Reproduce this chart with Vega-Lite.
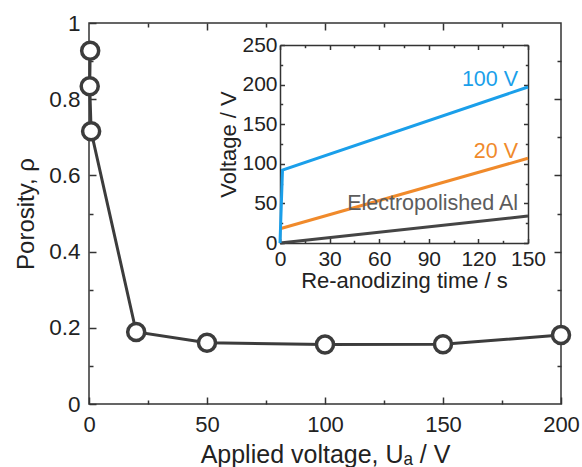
{
  "$schema": "https://vega.github.io/schema/vega-lite/v6.json",
  "width": 472,
  "height": 381,
  "autosize": {"type": "none"},
  "padding": {"left": 89, "top": 23, "right": 21, "bottom": 63},
  "background": "white",
  "config": {
    "font": "Liberation Sans",
    "view": {"stroke": "#333333", "strokeWidth": 1.5},
    "axis": {
      "grid": false,
      "labelFont": "Liberation Sans",
      "titleFont": "Liberation Sans",
      "labelColor": "#222222",
      "titleColor": "#222222",
      "tickColor": "#333333",
      "domainColor": "#333333",
      "tickWidth": 1.5,
      "domainWidth": 1.5,
      "titleFontWeight": "normal",
      "labelFlush": false,
      "labelOverlap": false
    }
  },
  "datasets": {
    "porosity": [
      {"Ua": 0.5, "rho": 0.927, "i": 0},
      {"Ua": 0.3, "rho": 0.834, "i": 1},
      {"Ua": 0.9, "rho": 0.716, "i": 2},
      {"Ua": 20, "rho": 0.189, "i": 3},
      {"Ua": 50, "rho": 0.161, "i": 4},
      {"Ua": 100, "rho": 0.156, "i": 5},
      {"Ua": 150, "rho": 0.157, "i": 6},
      {"Ua": 200, "rho": 0.181, "i": 7}
    ],
    "voltage": [
      {"series": "Electropolished Al", "t": 0, "V": 0},
      {"series": "Electropolished Al", "t": 150, "V": 34},
      {"series": "20 V", "t": 0, "V": 18},
      {"series": "20 V", "t": 150, "V": 107},
      {"series": "100 V", "t": 0, "V": 0},
      {"series": "100 V", "t": 1.5, "V": 92},
      {"series": "100 V", "t": 150, "V": 197}
    ],
    "labels": [
      {"series": "100 V", "t": 144, "V": 206, "label": "100 V"},
      {"series": "20 V", "t": 144, "V": 115, "label": "20 V"},
      {"series": "Electropolished Al", "t": 144, "V": 49, "label": "Electropolished Al"}
    ]
  },
  "layer": [
    {
      "data": {"name": "porosity"},
      "encoding": {
        "x": {
          "field": "Ua", "type": "quantitative",
          "scale": {"domain": [0, 200], "nice": false, "zero": false},
          "axis": {
            "orient": "bottom", "values": [0, 50, 100, 150, 200], "tickSize": -7,
            "domain": false, "labelPadding": 17, "labelFontSize": 22,
            "title": "Applied voltage, Uₐ / V", "titleFontSize": 25, "titlePadding": 7
          }
        },
        "y": {
          "field": "rho", "type": "quantitative",
          "scale": {"domain": [0, 1], "nice": false, "zero": false},
          "axis": {
            "orient": "left", "values": [0, 0.2, 0.4, 0.6, 0.8, 1], "format": "~g", "tickSize": -7,
            "domain": false, "labelPadding": 16, "labelFontSize": 22.5,
            "title": "Porosity, ρ", "titleFontSize": 24, "titlePadding": 10
          }
        }
      },
      "layer": [
        {
          "mark": {"type": "line", "color": "#3c3c3c", "strokeWidth": 3},
          "encoding": {"order": {"field": "i", "type": "quantitative"}}
        },
        {
          "mark": {"type": "point", "shape": "circle", "filled": true, "fill": "white", "stroke": "#3c3c3c", "strokeWidth": 3.5, "size": 290, "opacity": 1}
        }
      ]
    },
    {
      "data": {"name": "porosity"},
      "mark": {"type": "point", "opacity": 0},
      "encoding": {
        "x": {
          "field": "Ua", "type": "quantitative",
          "scale": {"domain": [0, 200], "nice": false, "zero": false},
          "axis": {"orient": "bottom", "values": [25, 75, 125, 175], "tickSize": -4, "domain": false, "labels": false, "title": null}
        },
        "y": {
          "field": "rho", "type": "quantitative",
          "scale": {"domain": [0, 1], "nice": false, "zero": false},
          "axis": {"orient": "left", "values": [0.1, 0.3, 0.5, 0.7, 0.9], "tickSize": -4, "domain": false, "labels": false, "title": null}
        }
      }
    },
    {
      "data": {"name": "porosity"},
      "mark": {"type": "point", "opacity": 0},
      "encoding": {
        "x": {
          "field": "Ua", "type": "quantitative",
          "scale": {"domain": [0, 200], "nice": false, "zero": false},
          "axis": {"orient": "top", "values": [50, 100, 150], "tickSize": -7, "domain": false, "labels": false, "title": null}
        },
        "y": {
          "field": "rho", "type": "quantitative",
          "scale": {"domain": [0, 1], "nice": false, "zero": false},
          "axis": {"orient": "right", "values": [0.2, 0.4, 0.6, 0.8], "tickSize": -7, "domain": false, "labels": false, "title": null}
        }
      }
    },
    {
      "data": {"name": "porosity"},
      "mark": {"type": "point", "opacity": 0},
      "encoding": {
        "x": {
          "field": "Ua", "type": "quantitative",
          "scale": {"domain": [0, 200], "nice": false, "zero": false},
          "axis": {"orient": "top", "values": [25, 75, 125, 175], "tickSize": -4, "domain": false, "labels": false, "title": null}
        },
        "y": {
          "field": "rho", "type": "quantitative",
          "scale": {"domain": [0, 1], "nice": false, "zero": false},
          "axis": {"orient": "right", "values": [0.1, 0.3, 0.5, 0.7, 0.9], "tickSize": -4, "domain": false, "labels": false, "title": null}
        }
      }
    },
    {
      "encoding": {
        "x": {
          "field": "t", "type": "quantitative",
          "scale": {"domain": [0, 150], "nice": false, "zero": false, "range": [191, 439]},
          "axis": {
            "orient": "bottom", "offset": -161, "values": [0, 30, 60, 90, 120, 150], "tickSize": -4.5,
            "domain": true, "labelPadding": 9.5, "labelFontSize": 21,
            "title": "Re-anodizing time / s", "titleFontSize": 22, "titlePadding": 1
          }
        },
        "y": {
          "field": "V", "type": "quantitative",
          "scale": {"domain": [0, 250], "nice": false, "zero": false, "range": [220, 22]},
          "axis": {
            "orient": "left", "offset": -191, "values": [0, 50, 100, 150, 200, 250], "tickSize": -4.5,
            "domain": true, "labelPadding": 7.5, "labelFontSize": 21,
            "title": "Voltage / V", "titleFontSize": 22, "titlePadding": 1
          }
        }
      },
      "layer": [
        {
          "data": {"name": "voltage"},
          "mark": {"type": "line", "strokeWidth": 3},
          "encoding": {
            "color": {
              "field": "series", "type": "nominal", "legend": null,
              "scale": {"domain": ["100 V", "20 V", "Electropolished Al"], "range": ["#1a9fea", "#f08a2b", "#454545"]}
            }
          }
        },
        {
          "data": {"name": "labels"},
          "mark": {"type": "text", "align": "right", "baseline": "middle", "fontSize": 21.5, "font": "Liberation Sans"},
          "encoding": {
            "text": {"field": "label", "type": "nominal"},
            "color": {
              "field": "series", "type": "nominal", "legend": null,
              "scale": {"domain": ["100 V", "20 V", "Electropolished Al"], "range": ["#1a9fea", "#f08a2b", "#5c5c5c"]}
            }
          }
        }
      ],
      "resolve": {"scale": {"color": "independent"}}
    },
    {
      "data": {"name": "voltage"},
      "mark": {"type": "point", "opacity": 0},
      "encoding": {
        "x": {
          "field": "t", "type": "quantitative",
          "scale": {"domain": [0, 150], "nice": false, "zero": false, "range": [191, 439]},
          "axis": {"orient": "bottom", "offset": -161, "values": [15, 45, 75, 105, 135], "tickSize": -2.7, "domain": false, "labels": false, "title": null}
        },
        "y": {
          "field": "V", "type": "quantitative",
          "scale": {"domain": [0, 250], "nice": false, "zero": false, "range": [220, 22]},
          "axis": {"orient": "left", "offset": -191, "values": [25, 75, 125, 175, 225], "tickSize": -2.7, "domain": false, "labels": false, "title": null}
        }
      }
    },
    {
      "data": {"name": "voltage"},
      "mark": {"type": "point", "opacity": 0},
      "encoding": {
        "x": {
          "field": "t", "type": "quantitative",
          "scale": {"domain": [0, 150], "nice": false, "zero": false, "range": [191, 439]},
          "axis": {"orient": "top", "offset": -22, "values": [0, 30, 60, 90, 120, 150], "tickSize": -4.5, "domain": true, "labels": false, "title": null}
        },
        "y": {
          "field": "V", "type": "quantitative",
          "scale": {"domain": [0, 250], "nice": false, "zero": false, "range": [220, 22]},
          "axis": {"orient": "right", "offset": -33, "values": [0, 50, 100, 150, 200, 250], "tickSize": -4.5, "domain": true, "labels": false, "title": null}
        }
      }
    },
    {
      "data": {"name": "voltage"},
      "mark": {"type": "point", "opacity": 0},
      "encoding": {
        "x": {
          "field": "t", "type": "quantitative",
          "scale": {"domain": [0, 150], "nice": false, "zero": false, "range": [191, 439]},
          "axis": {"orient": "top", "offset": -22, "values": [15, 45, 75, 105, 135], "tickSize": -2.7, "domain": false, "labels": false, "title": null}
        },
        "y": {
          "field": "V", "type": "quantitative",
          "scale": {"domain": [0, 250], "nice": false, "zero": false, "range": [220, 22]},
          "axis": {"orient": "right", "offset": -33, "values": [25, 75, 125, 175, 225], "tickSize": -2.7, "domain": false, "labels": false, "title": null}
        }
      }
    }
  ],
  "resolve": {
    "scale": {"x": "independent", "y": "independent"},
    "axis": {"x": "independent", "y": "independent"}
  }
}
